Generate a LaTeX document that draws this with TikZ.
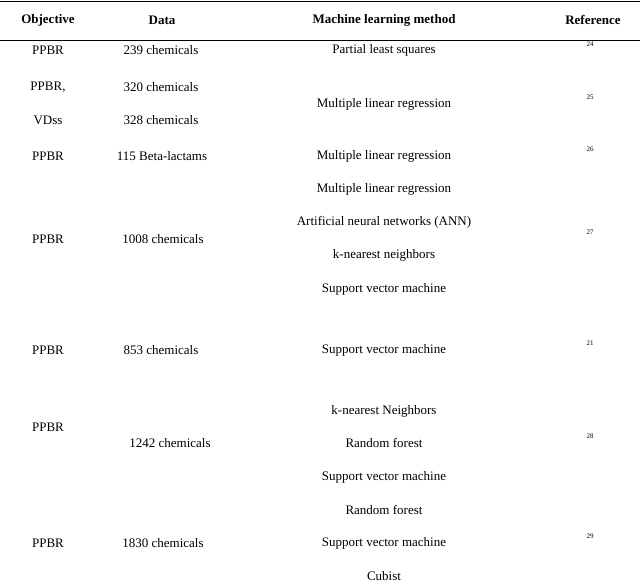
\documentclass[tikz,border=0pt]{standalone}
\usepackage{fontspec}
\setmainfont{Liberation Serif}
\begin{document}
\begin{tikzpicture}[x=1pt,y=-1pt,
  t/.style={inner sep=0pt,font=\fontsize{13}{15}\selectfont},
  h/.style={t,font=\fontsize{13}{15}\selectfont\bfseries},
  r/.style={inner sep=0pt,font=\fontsize{7}{8}\selectfont}]
\useasboundingbox (0,0) rectangle (640,582);
\draw[line width=1.6pt] (0,1.5) coordinate(tl) -- (640,1.5) coordinate(tr);
\draw[line width=1pt] (0,40) coordinate(hl) -- (640,40) coordinate(hr);
\node[h] (h1) at (48,20) {Objective};
\node[h] (h2) at (162,20) {Data};
\node[h] (h3) at (384,20) {Machine learning method};
\node[h] (h4) at (593,20) {Reference};
\node[t] (a1) at (48,50) {PPBR};
\node[t] (b1) at (161,50) {239 chemicals};
\node[t] (c1) at (384,50) {Partial least squares};
\node[r] (d1) at (590,44) {24};
\node[t] (a2) at (48,87) {PPBR,};
\node[t] (a2b) at (48,120) {VDss};
\node[t] (b2) at (161,87) {320 chemicals};
\node[t] (b2b) at (161,120) {328 chemicals};
\node[t] (c2) at (384,104) {Multiple linear regression};
\node[r] (d2) at (590,97) {25};
\node[t] (a3) at (48,156) {PPBR};
\node[t] (b3) at (162,156) {115 Beta-lactams};
\node[t] (c3) at (384,156) {Multiple linear regression};
\node[r] (d3) at (590,149) {26};
\node[t] (c4a) at (384,189) {Multiple linear regression};
\node[t] (c4b) at (384,222) {Artificial neural networks (ANN)};
\node[t] (c4c) at (384,255) {k-nearest neighbors};
\node[t] (c4d) at (384,289) {Support vector machine};
\node[t] (a4) at (48,239) {PPBR};
\node[t] (b4) at (163,239) {1008 chemicals};
\node[r] (d4) at (590,232) {27};
\node[t] (a5) at (48,350) {PPBR};
\node[t] (b5) at (161,350) {853 chemicals};
\node[t] (c5) at (384,350) {Support vector machine};
\node[r] (d5) at (590,343) {21};
\node[t] (a6) at (48,427) {PPBR};
\node[t] (b6) at (170,443) {1242 chemicals};
\node[t] (c6a) at (384,411) {k-nearest Neighbors};
\node[t] (c6b) at (384,443) {Random forest};
\node[t] (c6c) at (384,477) {Support vector machine};
\node[r] (d6) at (590,436) {28};
\node[t] (a7) at (48,543) {PPBR};
\node[t] (b7) at (163,543) {1830 chemicals};
\node[t] (c7a) at (384,510) {Random forest};
\node[t] (c7b) at (384,543) {Support vector machine};
\node[t] (c7c) at (384,576) {Cubist};
\node[r] (d7) at (590,536) {29};
\end{tikzpicture}
\end{document}
